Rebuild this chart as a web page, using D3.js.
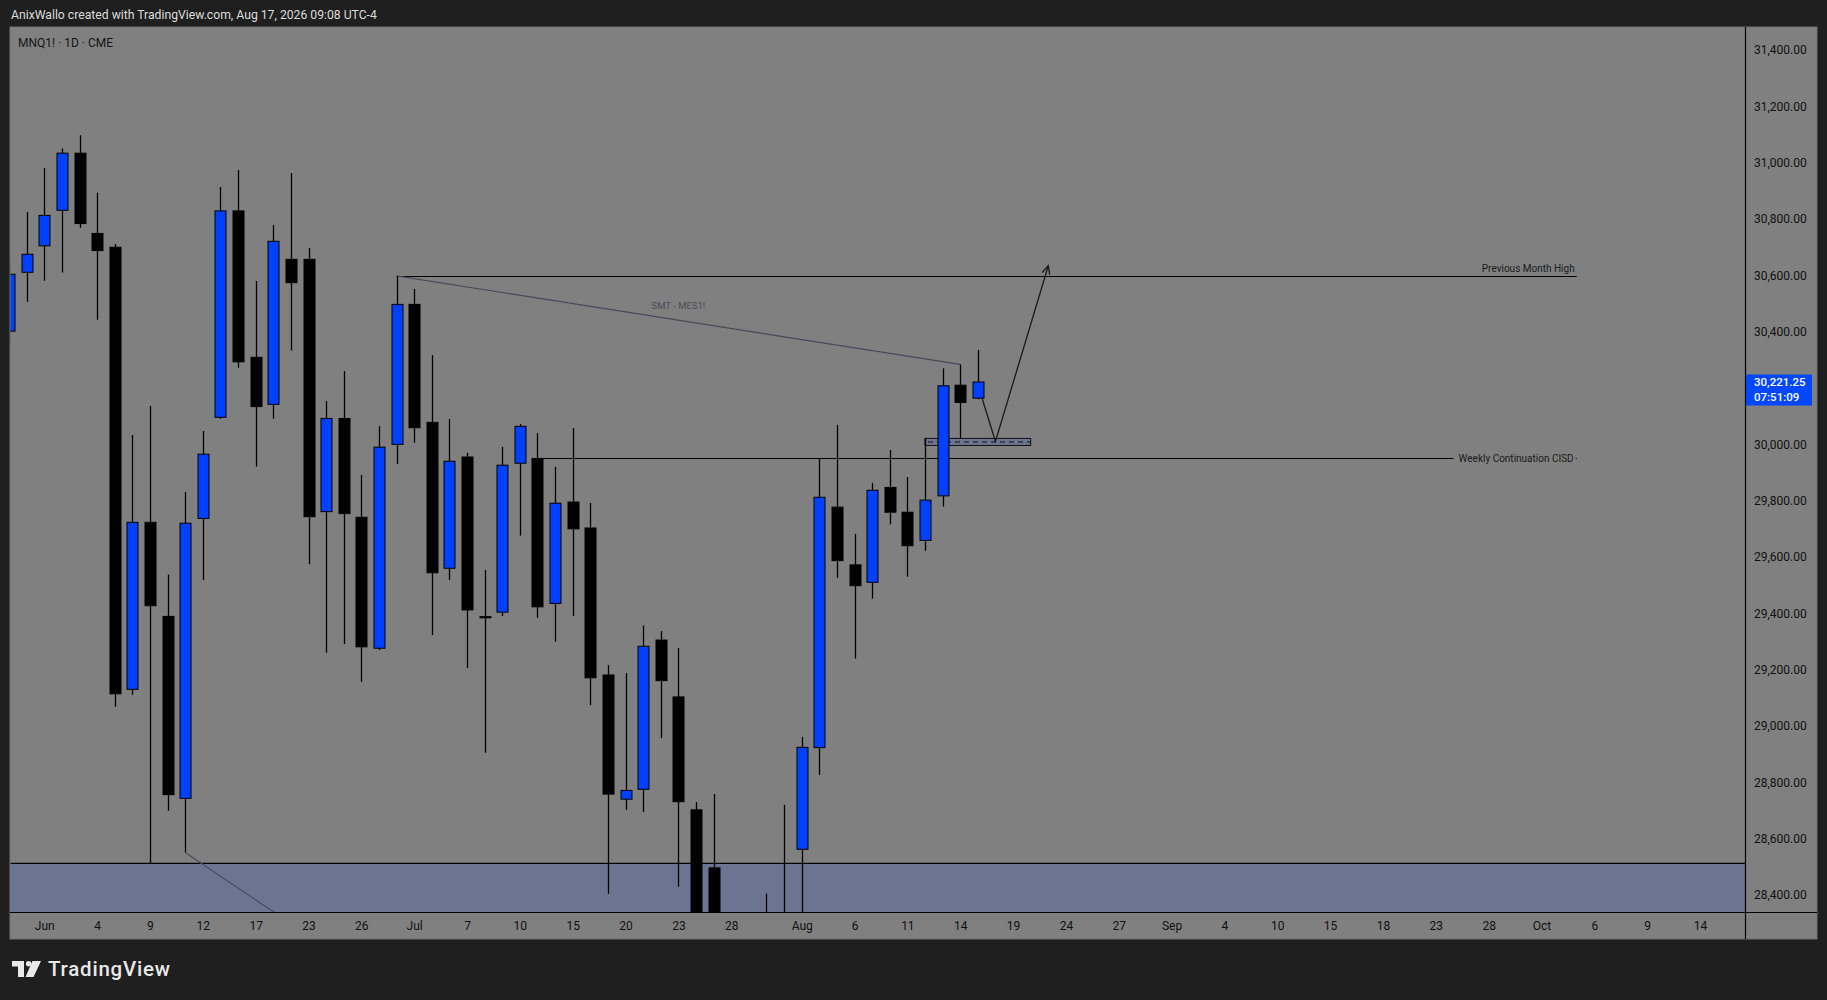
<!DOCTYPE html>
<html><head><meta charset="utf-8">
<script src="https://cdn.jsdelivr.net/npm/d3@7"></script>
<style>html,body{margin:0;padding:0;background:#1f1f1f;overflow:hidden}</style>
</head><body>
<svg id="c" width="1827" height="1000"></svg>
<script>
// ---------- DATA ----------
const dates = ["2026-05-28","2026-05-29","2026-06-01","2026-06-02","2026-06-03","2026-06-04","2026-06-05","2026-06-08","2026-06-09","2026-06-10","2026-06-11","2026-06-12","2026-06-15","2026-06-16","2026-06-17","2026-06-18","2026-06-22","2026-06-23","2026-06-24","2026-06-25","2026-06-26","2026-06-29","2026-06-30","2026-07-01","2026-07-02","2026-07-06","2026-07-07","2026-07-08","2026-07-09","2026-07-10","2026-07-13","2026-07-14","2026-07-15","2026-07-16","2026-07-17","2026-07-20","2026-07-21","2026-07-22","2026-07-23","2026-07-24","2026-07-27","2026-07-28","2026-07-29","2026-07-30","2026-07-31","2026-08-03","2026-08-04","2026-08-05","2026-08-06","2026-08-07","2026-08-10","2026-08-11","2026-08-12","2026-08-13","2026-08-14","2026-08-17"];
const open  = [30402,30611,30705,30831,31034,30749,30700,29130,29723,29389,28743,29737,30096,30829,30309,30142,30657,30657,29761,30092,29741,29276,30000,30497,30078,29560,29955,29388,29404,29933,29950,29435,29795,29703,29181,28740,28775,29305,29103,28702,28496,28230,28050,28170,28280,28562,28923,29777,29572,29510,29847,29759,29659,29817,30210,30164];
const high  = [30650,30825,30981,31051,31098,30893,30711,30033,30136,29538,29831,30047,30914,30974,30580,30779,30964,30697,30154,30260,29891,30065,30598,30552,30317,30090,29970,29554,29991,30072,30040,29920,30058,29792,29216,29188,29357,29337,29277,28730,28758,28320,28260,28404,28720,28961,29950,30069,29682,29863,29980,29884,30021,30270,30284,30335];
const low   = [30350,30506,30581,30610,30769,30442,29068,29111,28512,28699,28551,29518,30090,30272,29921,30091,30333,29574,29260,29291,29157,29270,29930,30006,29323,29518,29206,28905,29390,29676,29384,29299,29390,29074,28404,28702,28694,28957,28429,28150,28100,27950,27900,28000,28050,28280,28826,29526,29239,29452,29716,29530,29622,29779,30021,30160];
const close = [30604,30675,30813,31034,30784,30688,29114,29723,29427,28756,29720,29965,30829,30293,30134,30721,30574,29743,30092,29754,29281,29990,30497,30059,29544,29940,29412,29384,29926,30064,29423,29791,29700,29171,28758,28771,29283,29161,28731,28250,28200,28050,28180,28290,28320,28924,29812,29587,29498,29837,29759,29640,29802,30208,30149,30221.25];

// 30,200 is covered by the last-price label in the reference
const priceTicks = [28400,28600,28800,29000,29200,29400,29600,29800,30000,30400,30600,30800,31000,31200,31400];
const timeTickDates  = ["2026-06-01","2026-06-04","2026-06-09","2026-06-12","2026-06-17","2026-06-23","2026-06-26","2026-07-01","2026-07-07","2026-07-10","2026-07-15","2026-07-20","2026-07-23","2026-07-28","2026-08-03","2026-08-06","2026-08-11","2026-08-14","2026-08-19","2026-08-24","2026-08-27","2026-09-01","2026-09-04","2026-09-10","2026-09-15","2026-09-18","2026-09-23","2026-09-28","2026-10-01","2026-10-06","2026-10-09","2026-10-14"];
const timeTickLabels = ["Jun","4","9","12","17","23","26","Jul","7","10","15","20","23","28","Aug","6","11","14","19","24","27","Sep","4","10","15","18","23","28","Oct","6","9","14"];
const holidays = ["2026-06-19","2026-07-03","2026-09-07"];

const lastPrice = 30221.25;
const countdown = "07:51:09";
const zoneTopPrice = 28512;
const pmhLine   = ["2026-06-30","2026-10-05",30598,"Previous Month High"];
const cisdLine  = ["2026-07-13","2026-10-05",29950,"Weekly Continuation CISD"];
const smtLine   = [["2026-06-30",30598],["2026-08-14",30284],"SMT - MES1!"];
const lowLine   = [["2026-06-11",28551],["2026-06-22",28298]];
const boxDates  = ["2026-08-12","2026-08-20"];
const boxPrices = [30021,29996];
const arrowPts  = [["2026-08-17",0.25,30162],["2026-08-18",0,30010],["2026-08-21",0,30634]];
const headerText = "AnixWallo created with TradingView.com, Aug 17, 2026 09:08 UTC-4";
const symbolText = "MNQ1! \u00b7 1D \u00b7 CME";

// ---------- SETUP ----------
const W = 1827, H = 1000;
const FONT = "Roboto, 'Liberation Sans', sans-serif";
const svg = d3.select("#c");
const parse = d3.utcParse("%Y-%m-%d"), fmt = d3.utcFormat("%Y-%m-%d");
const sessions = d3.utcDay.range(parse("2026-05-28"), parse("2026-10-17"))
  .filter(d => d.getUTCDay() % 6 !== 0 && !holidays.includes(fmt(d))).map(fmt);
const si = d => sessions.indexOf(d);

const pane = {l:10, t:27, r:1817, b:939};
const plot = {l:10.5, t:27, r:1745.5, b:912.5};

const x = d3.scaleLinear().domain([0, 96]).range([9.07, 1700.0]);
const y = d3.scaleLinear().domain([28400, 31400]).range([894.9, 50.1]);

svg.append("rect").attr("width", W).attr("height", H).attr("fill", "#1f1f1f");
svg.append("rect").attr("x", pane.l).attr("y", pane.t).attr("width", pane.r - pane.l).attr("height", pane.b - pane.t)
  .attr("fill", "#808080").attr("stroke", "#737373").attr("stroke-width", 1);

svg.append("defs").append("clipPath").attr("id", "pc").append("rect")
  .attr("x", plot.l).attr("y", plot.t).attr("width", plot.r - plot.l).attr("height", plot.b - plot.t);
const g = svg.append("g").attr("clip-path", "url(#pc)");

// bottom zone
g.append("rect").attr("x", plot.l).attr("width", plot.r - plot.l)
  .attr("y", y(zoneTopPrice)).attr("height", plot.b - y(zoneTopPrice)).attr("fill", "#6b7592");
g.append("line").attr("x1", plot.l).attr("x2", plot.r).attr("y1", y(zoneTopPrice)).attr("y2", y(zoneTopPrice))
  .attr("stroke", "#000").attr("stroke-width", 1.2);

// box
const bx0 = x(si(boxDates[0])), bx1 = x(si(boxDates[1]));
g.append("rect").attr("x", bx0).attr("width", bx1 - bx0).attr("y", y(boxPrices[0])).attr("height", y(boxPrices[1]) - y(boxPrices[0]))
  .attr("fill", "#6b7592").attr("stroke", "#111").attr("stroke-width", 1);
g.append("line").attr("x1", bx0 + 3).attr("x2", bx1).attr("y1", y((boxPrices[0] + boxPrices[1]) / 2)).attr("y2", y((boxPrices[0] + boxPrices[1]) / 2))
  .attr("stroke", "#111").attr("stroke-width", 1).attr("stroke-dasharray", "5,4");

// previous month high
{
  const [d0, d1, p, label] = pmhLine;
  const yy = Math.round(y(p)) + 0.5;
  g.append("line").attr("x1", x(si(d0))).attr("x2", x(si(d1))).attr("y1", yy).attr("y2", yy).attr("stroke", "#000").attr("stroke-width", 1.2);
  svg.append("text").attr("x", x(si(d1)) - 2).attr("y", yy - 5).attr("text-anchor", "end")
    .attr("font-family", FONT).attr("font-size", 10).attr("fill", "#1a1a1a").text(label);
}
// weekly CISD
{
  const [d0, d1, p, label] = cisdLine;
  const yy = Math.round(y(p)) + 0.5;
  const xe = x(si(d1));
  const t = svg.append("text").attr("x", xe - 3).attr("y", yy).attr("dy", "0.35em").attr("text-anchor", "end")
    .attr("font-family", FONT).attr("font-size", 10).attr("fill", "#1a1a1a").text(label);
  const tw = t.node().getComputedTextLength();
  g.append("line").attr("x1", x(si(d0))).attr("x2", xe - 3 - tw - 5).attr("y1", yy).attr("y2", yy).attr("stroke", "#000").attr("stroke-width", 1.2);
  g.append("line").attr("x1", xe - 1).attr("x2", xe).attr("y1", yy).attr("y2", yy).attr("stroke", "#000").attr("stroke-width", 1.2);
}

// candles
const cg = g.append("g");
dates.forEach((d, i) => {
  const cx = Math.round(x(si(d))) + 0.5;
  const o = open[i], c = close[i], up = c >= o;
  cg.append("line").attr("x1", cx).attr("x2", cx).attr("y1", y(high[i])).attr("y2", y(low[i]))
    .attr("stroke", "#000").attr("stroke-width", 1.3);
  const yt = y(Math.max(o, c)), yb = y(Math.min(o, c));
  cg.append("rect").attr("x", cx - 5.5).attr("width", 11).attr("y", yt).attr("height", Math.max(1, yb - yt))
    .attr("fill", up ? "#0040ff" : "#000").attr("stroke", "#000").attr("stroke-width", 1);
});

// SMT line
{
  const [[d0, p0], [d1, p1], label] = smtLine;
  const x0 = x(si(d0)), x1 = x(si(d1));
  g.append("line").attr("x1", x0).attr("x2", x1).attr("y1", y(p0)).attr("y2", y(p1))
    .attr("stroke", "#464a58").attr("stroke-width", 1.2);
  svg.append("text").attr("x", (x0 + x1) / 2).attr("y", (y(p0) + y(p1)) / 2 - 11).attr("text-anchor", "middle")
    .attr("font-family", FONT).attr("font-size", 9.5).attr("fill", "#4a4d58").text(label);
}
// low diagonal line
{
  const [[d0, p0], [d1, p1]] = lowLine;
  g.append("line").attr("x1", x(si(d0))).attr("x2", x(si(d1))).attr("y1", y(p0)).attr("y2", y(p1))
    .attr("stroke", "#474b57").attr("stroke-width", 1.2);
}
// arrow path
{
  const pts = arrowPts.map(([d, off, p]) => [x(si(d) + off), y(p)]);
  g.append("path").attr("d", d3.line()(pts)).attr("fill", "none").attr("stroke", "#1a1a1a").attr("stroke-width", 1.3);
  const [a, b] = [pts[pts.length - 2], pts[pts.length - 1]];
  const ang = Math.atan2(b[1] - a[1], b[0] - a[0]);
  const L = 9, sp = 0.45;
  const h1 = [b[0] - L * Math.cos(ang - sp), b[1] - L * Math.sin(ang - sp)];
  const h2 = [b[0] - L * Math.cos(ang + sp), b[1] - L * Math.sin(ang + sp)];
  g.append("path").attr("d", d3.line()([h1, b, h2])).attr("fill", "none").attr("stroke", "#1a1a1a").attr("stroke-width", 1.3);
}

// axes separators
svg.append("line").attr("x1", plot.r).attr("x2", plot.r).attr("y1", pane.t).attr("y2", pane.b).attr("stroke", "#000").attr("stroke-width", 1.2);
svg.append("line").attr("x1", pane.l).attr("x2", pane.r).attr("y1", plot.b).attr("y2", plot.b).attr("stroke", "#000").attr("stroke-width", 1.2);

// price axis
const ya = svg.append("g").attr("transform", `translate(${plot.r},0)`)
  .call(d3.axisRight(y).tickValues(priceTicks).tickSize(0).tickPadding(8.5).tickFormat(d3.format(",.2f")));
ya.select(".domain").remove();
ya.selectAll("text").attr("font-family", FONT).attr("font-size", 12).attr("fill", "#111");

// time axis
const xa = svg.append("g").attr("transform", `translate(0,${plot.b})`)
  .call(d3.axisBottom(x).tickValues(timeTickDates.map(si)).tickSize(0).tickPadding(9).tickFormat((d, i) => timeTickLabels[i]));
xa.select(".domain").remove();
xa.selectAll("text").attr("font-family", FONT).attr("font-size", 12).attr("fill", "#111");

// last price label
{
  const yy = y(lastPrice);
  svg.append("rect").attr("x", plot.r + 0.5).attr("y", yy - 7.5).attr("width", 66).attr("height", 31).attr("fill", "#0047ff");
  svg.append("text").attr("x", plot.r + 8.5).attr("y", yy + 4).attr("font-family", FONT)
    .attr("font-size", 11.5).attr("font-weight", 500).attr("fill", "#fff").text(d3.format(",.2f")(lastPrice));
  svg.append("text").attr("x", plot.r + 8.5).attr("y", yy + 18.5).attr("font-family", FONT)
    .attr("font-size", 11.5).attr("font-weight", 500).attr("fill", "#fff").text(countdown);
}

// header & symbol
svg.append("text").attr("x", 11).attr("y", 19).attr("font-family", FONT).attr("font-size", 12.2)
  .attr("fill", "#dcdcdc").text(headerText);
svg.append("text").attr("x", 18).attr("y", 46.5).attr("font-family", FONT).attr("font-size", 12)
  .attr("fill", "#151515").text(symbolText);

// TradingView logo
{
  const lg = svg.append("g").attr("fill", "#e9e9e9");
  lg.append("path").attr("d", "M12,961 H24 V977 H18 V966.5 H12 Z");
  lg.append("circle").attr("cx", 28.6).attr("cy", 963.8).attr("r", 2.7);
  lg.append("path").attr("d", "M32.5,961 H41 L33.5,977 H25.5 Z");
  svg.append("text").attr("x", 48).attr("y", 976).attr("font-family", FONT).attr("font-size", 20.5)
    .attr("font-weight", 500).attr("fill", "#e9e9e9").attr("textLength", 122).attr("lengthAdjust", "spacing").text("TradingView");
}
</script>
</body></html>
